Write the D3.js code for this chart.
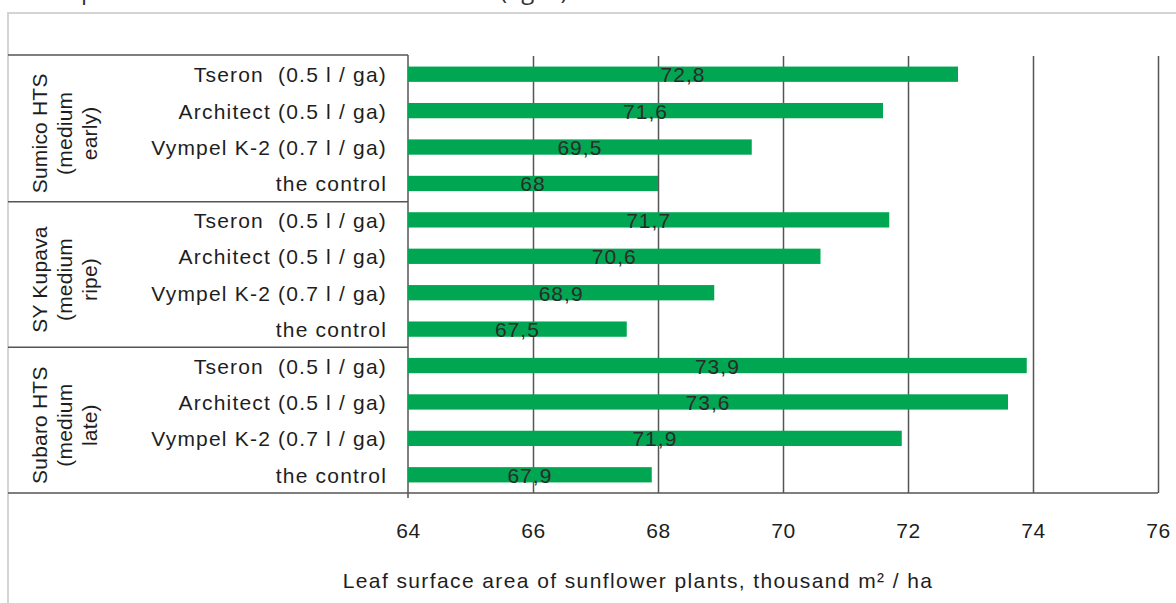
<!DOCTYPE html>
<html><head>
<meta charset="utf-8">
<script src="https://d3js.org/d3.v7.min.js"></script>
<style>
  body { margin: 0; background: #fff; }
  svg text { font-family: "Liberation Sans", Arial, sans-serif; white-space: pre; }
  .row-label { font-size: 21px; fill: #1e1e1e; text-anchor: end; letter-spacing: 1.2px; }
  .grp-label { font-size: 21px; fill: #1e1e1e; text-anchor: middle; letter-spacing: 0.2px; }
  .val-label { font-size: 21px; fill: #2b2b2b; text-anchor: middle; letter-spacing: 1px; }
  .x-axis text { font-size: 21px; fill: #1e1e1e; letter-spacing: 0.5px; }
  .x-axis line { stroke: #555; stroke-width: 1.5; }
</style>
</head>
<body>
<svg id="chart" width="1176" height="603"></svg>
<script>

// data
const groupNames = [["Sumico HTS", "(medium", "early)"],
                    ["SY Kupava", "(medium", "ripe)"],
                    ["Subaro HTS", "(medium", "late)"]];
const treatments = ["Tseron  (0.5 l / ga)", "Architect (0.5 l / ga)", "Vympel K-2 (0.7 l / ga)", "the control"];
const sumicoValues = [72.8, 71.6, 69.5, 68];
const kupavaValues = [71.7, 70.6, 68.9, 67.5];
const subaroValues = [73.9, 73.6, 71.9, 67.9];
const xTicks = [64, 66, 68, 70, 72, 74, 76];
const axisTitle = "Leaf surface area of sunflower plants, thousand m² / ha";

// one row per bar
const allValues = [sumicoValues, kupavaValues, subaroValues];
let rows = [];
allValues.forEach((vals, g) => {
  vals.forEach((v, i) => rows.push({id: g + "-" + i, group: g, name: treatments[i], value: v}));
});

const svg = d3.select("#chart");
const plotLeft = 408, plotRight = 1158, plotTop = 56, plotBottom = 493, boxLeft = 8;

const xScale = d3.scaleLinear().domain([64, 76]).range([plotLeft, plotRight]);
const yScale = d3.scaleBand().domain(rows.map(d => d.id)).range([plotTop, plotBottom])
                 .paddingInner(0.58).paddingOuter(0.29);

// light outer frame
svg.append("path").attr("d", "M" + boxLeft + ",603 V13 H1176")
   .attr("fill", "none").attr("stroke", "#d4d4d4").attr("stroke-width", 2);

// caption line above the frame, cropped in the picture (only descenders show)
svg.append("text").attr("x", 22).attr("y", -1)
   .style("font-family", "'Open Sans', sans-serif").style("font-size", "24px").attr("fill", "#333")
   .text("The specific leaf area is shown in the chart (fig. 3)");

// axis with gridlines
let xAxis = svg.append("g").attr("class", "x-axis")
               .attr("transform", "translate(0," + plotBottom + ")");
xAxis.call(d3.axisBottom(xScale).tickValues(xTicks).tickSize(-(plotBottom - plotTop)).tickPadding(30));
xAxis.select(".domain").remove();
xAxis.selectAll(".tick").filter(d => d === 64).select("line").remove();

// category box lines
const groupTop = [plotTop - 1, plotTop + yScale.step() * 4, plotTop + yScale.step() * 8, plotBottom];
groupTop.forEach((gy, i) => {
  svg.append("line").attr("x1", boxLeft).attr("x2", i === 3 ? plotRight : plotLeft)
     .attr("y1", gy).attr("y2", gy).attr("stroke", "#555").attr("stroke-width", 1.5);
});
svg.append("line").attr("x1", plotLeft).attr("x2", plotLeft).attr("y1", plotTop - 1).attr("y2", plotBottom + 5)
   .attr("stroke", "#555").attr("stroke-width", 1.5);

// bars
svg.append("g").selectAll("rect").data(rows).join("rect")
   .attr("x", xScale(64))
   .attr("y", d => yScale(d.id))
   .attr("width", d => xScale(d.value) - xScale(64))
   .attr("height", yScale.bandwidth())
   .attr("fill", "#00a651");

// value labels centred on each bar
svg.append("g").selectAll("text").data(rows).join("text")
   .attr("class", "val-label")
   .attr("x", d => (xScale(64) + xScale(d.value)) / 2)
   .attr("y", d => yScale(d.id) + yScale.bandwidth() / 2 + 8)
   .text(d => String(d.value).replace(".", ","));

// treatment labels
svg.append("g").selectAll("text").data(rows).join("text")
   .attr("class", "row-label")
   .attr("x", 387)
   .attr("y", d => yScale(d.id) + yScale.bandwidth() / 2 + 8)
   .text(d => d.name);

// rotated group labels
groupNames.forEach((lines, g) => {
  const cy = (groupTop[g] + groupTop[g + 1]) / 2;
  lines.forEach((t, k) => {
    svg.append("text").attr("class", "grp-label")
       .attr("transform", "translate(" + (47 + k * 25) + "," + (cy + 5) + ") rotate(-90)")
       .text(t);
  });
});

// axis title
svg.append("text").attr("x", 638).attr("y", 588)
   .attr("text-anchor", "middle").style("font-size", "21px").style("letter-spacing", "1.4px")
   .attr("fill", "#1e1e1e")
   .text(axisTitle);

</script>
</body>
</html>
